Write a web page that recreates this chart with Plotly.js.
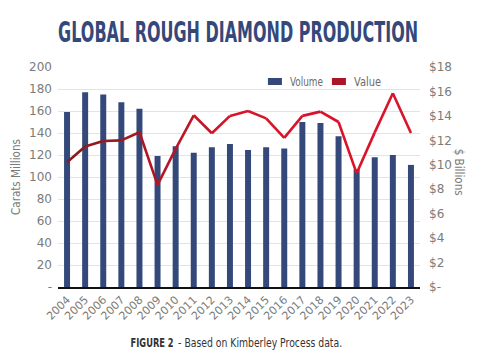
<!DOCTYPE html>
<html><head><meta charset="utf-8">
<script src="https://cdn.plot.ly/plotly-3.0.1.min.js"></script>
<style>html,body{margin:0;padding:0;background:#fff;}#chart{width:481px;height:358px;}</style>
</head><body><div id="chart"></div>
<script>
var years = ["2004","2005","2006","2007","2008","2009","2010","2011","2012","2013","2014","2015","2016","2017","2018","2019","2020","2021","2022","2023"];
var volume = [159, 177, 175, 168, 162, 119, 128, 122, 127, 130, 124.5, 127, 126, 150, 149, 137, 107, 118, 120, 111];
var value = [10.2, 11.5, 11.95, 12.0, 12.66, 8.35, 11.3, 14.05, 12.58, 14.0, 14.4, 13.8, 12.2, 14.0, 14.35, 13.5, 9.3, 12.65, 15.85, 12.6];
var leftTickVals = [0,20,40,60,80,100,120,140,160,180,200];
var leftTickText = ["-","20","40","60","80","100","120","140","160","180","200"];
var rightTickVals = [0,2,4,6,8,10,12,14,16,18];
var rightTickText = ["$-","$2","$4","$6","$8","$10","$12","$14","$16","$18"];

var FAM = "DejaVu Sans, sans-serif";
var tickFont = {family:FAM, size:12, color:"#7b7b7b"};

function mix(a,b,t){
  var ca=[parseInt(a.substr(1,2),16),parseInt(a.substr(3,2),16),parseInt(a.substr(5,2),16)];
  var cb=[parseInt(b.substr(1,2),16),parseInt(b.substr(3,2),16),parseInt(b.substr(5,2),16)];
  return "rgb("+ca.map(function(v,i){return Math.round(v+(cb[i]-v)*t);}).join(",")+")";
}

var traces = [{
  type:"bar", name:"Volume", x:years, y:volume, width:0.33,
  marker:{color:"#34497a"}, yaxis:"y", hoverinfo:"skip"
}];
for (var i=0;i<years.length-1;i++){
  var t = Math.min(1, i/9);
  traces.push({
    type:"scatter", mode:"lines", x:years.slice(i,i+2), y:value.slice(i,i+2),
    yaxis:"y2", line:{color:mix("#8a1a1e","#d8132a",t), width:2.6},
    showlegend:false, hoverinfo:"skip"
  });
}
// legend entry for Value (rectangular swatch, draws no bar)
traces.push({type:"bar", name:"Value", x:[years[0]], y:[null], yaxis:"y2",
  marker:{color:"#ad1428"}, showlegend:true, hoverinfo:"skip"});

var layout = {
  width:481, height:358,
  margin:{l:58, r:61, t:67, b:71},
  paper_bgcolor:"#fff", plot_bgcolor:"#fff",
  barmode:"overlay",
  title:{text:"GLOBAL ROUGH DIAMOND PRODUCTION", x:0.495, xanchor:"center", y:0.91, yanchor:"middle",
    font:{family:FAM, size:28, color:"#34497a", weight:700}},
  showlegend:true,
  legend:{orientation:"h", x:0.544, xanchor:"left", y:1.0, yanchor:"top",
    font:{family:FAM, size:12, color:"#6b6b6b"},
    bgcolor:"rgba(0,0,0,0)", traceorder:"normal", entrywidth:19, entrywidthmode:"pixels"},
  xaxis:{type:"category", tickangle:-45, tickfont:{family:FAM, size:11, color:"#7b7b7b"},
    showline:true, linecolor:"#111", linewidth:2, showgrid:false, ticks:"", range:[-0.5,19.5]},
  yaxis:{range:[0,200], tickvals:leftTickVals, ticktext:leftTickText, tickfont:tickFont,
    gridcolor:"#e3e3e3", gridwidth:1, zeroline:false, showline:false, ticks:"", ticklabelstandoff:5,
    title:{text:"Carats Millions", font:{family:FAM, size:13, color:"#7b7b7b"}, standoff:5}},
  yaxis2:{range:[0,18], overlaying:"y", side:"right", tickvals:rightTickVals, ticktext:rightTickText, tickfont:tickFont,
    showgrid:false, zeroline:false, showline:false, ticks:"", ticklabelstandoff:8},
  annotations:[
    {text:"$ Billions", xref:"paper", yref:"paper", x:1.11, y:0.52, xanchor:"center", yanchor:"middle", textangle:90, showarrow:false,
     font:{family:FAM, size:13, color:"#7b7b7b"}},
    {text:"<b>FIGURE 2</b>", xref:"paper", yref:"paper", x:0.261, y:-0.255, xanchor:"center", yanchor:"middle", showarrow:false,
     font:{family:FAM, size:12, color:"#333"}},
    {text:"- Based on Kimberley Process data.", xref:"paper", yref:"paper", x:0.558, y:-0.255, xanchor:"center", yanchor:"middle", showarrow:false,
     font:{family:FAM, size:12, color:"#333"}}
  ]
};
function squeeze(el, len){
  if(!el) return;
  el.setAttribute("textLength", len);
  el.setAttribute("lengthAdjust", "spacingAndGlyphs");
}
Plotly.newPlot("chart", traces, layout, {staticPlot:true, displayModeBar:false}).then(function(gd){
  squeeze(gd.querySelector(".gtitle"), 360);
  squeeze(gd.querySelector(".ytitle"), 76);
  var ann = gd.querySelectorAll(".annotation-text");
  squeeze(ann[0], 47);
  squeeze(ann[1], 43);
  squeeze(ann[2], 164);
  var lt = gd.querySelectorAll(".legend .legendtext");
  lt.forEach(function(el){ el.setAttribute("x", 35); });
  if (lt[0]) squeeze(lt[0], 33);
  if (lt[1]) squeeze(lt[1], 27);
  gd.querySelectorAll(".legend .legendpoints path").forEach(function(p){
    p.setAttribute("d", "M7,3.5H-7V-3.5H7Z");
  });
});
</script></body></html>
